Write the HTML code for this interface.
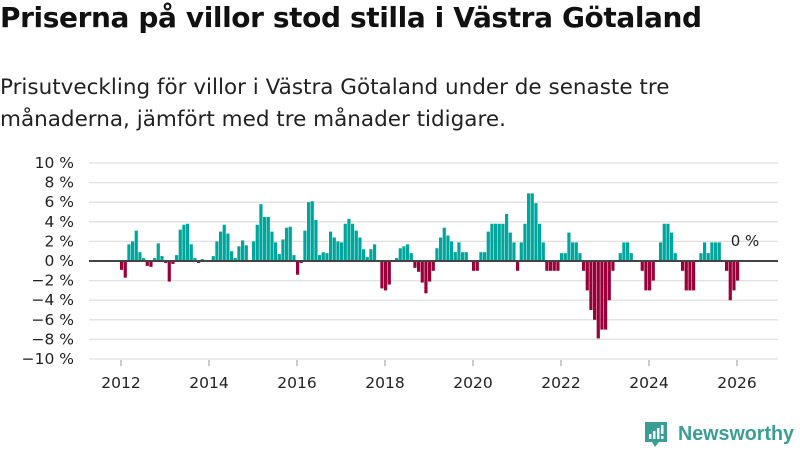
<!DOCTYPE html>
<html><head><meta charset="utf-8"><style>
body{margin:0;width:800px;height:450px;background:#fff;font-family:"Liberation Sans","DejaVu Sans",sans-serif;overflow:hidden;position:relative}
h1{position:absolute;left:0;top:1px;margin:0;font-size:28px;font-weight:bold;color:#111;font-family:"DejaVu Sans","Liberation Sans",sans-serif;letter-spacing:-0.4px}
.sub{position:absolute;left:0;top:72px;margin:0;font-size:21.5px;line-height:32px;color:#222;font-family:"DejaVu Sans","Liberation Sans",sans-serif;width:760px}
svg{position:absolute;left:0;top:0}
</style></head><body>
<h1>Priserna på villor stod stilla i Västra Götaland</h1>
<p class="sub">Prisutveckling för villor i Västra Götaland under de senaste tre<br>månaderna, jämfört med tre månader tidigare.</p>
<svg id="chart" width="800" height="450"></svg>
<script>
const startYear = 2012;
const values = [-0.9,-1.7,1.7,2.0,3.1,0.9,0.3,-0.5,-0.6,0.3,1.8,0.5,-0.2,-2.1,-0.3,0.6,3.2,3.7,3.8,1.7,0.3,-0.2,0.2,0.1,0,0.5,2.0,3.0,3.7,2.8,1.0,0.3,1.5,2.1,1.6,0,2.0,3.7,5.8,4.5,4.5,3.0,1.9,0.7,2.2,3.4,3.5,0.6,-1.4,-0.2,3.1,6.0,6.1,4.2,0.6,0.9,0.8,3.0,2.4,2.0,1.9,3.8,4.3,3.8,3.1,2.4,1.2,0.4,1.2,1.7,0,-2.8,-3.0,-2.4,0,0.3,1.3,1.5,1.7,0.8,-0.7,-1.1,-2.2,-3.3,-2.1,-1.0,1.3,2.4,3.4,2.6,2.0,0.9,1.9,0.9,0.9,0,-1.0,-1.0,0.9,0.9,3.0,3.8,3.8,3.8,3.8,4.8,2.9,1.9,-1.0,1.9,3.8,6.9,6.9,5.9,3.8,1.9,-1.0,-1.0,-1.0,-1.0,0.8,0.8,2.9,1.9,1.9,0.8,-1.0,-3.0,-5.0,-6.0,-7.9,-7.0,-7.0,-4.0,-1.0,0,0.8,1.9,1.9,0.8,0,0,-1.0,-3.0,-3.0,-2.0,0,1.9,3.8,3.8,2.9,0.8,0,-1.0,-3.0,-3.0,-3.0,0,0.8,1.9,0.8,1.9,1.9,1.9,0,-1.0,-4.0,-3.0,-2.0,0];
const yTicks = [10,8,6,4,2,0,-2,-4,-6,-8,-10];
const xTicks = [2012,2014,2016,2018,2020,2022,2024,2026];
const lastLabel = "0 %";

const NS="http://www.w3.org/2000/svg";
const svg=document.getElementById('chart');
const x=t=>121+(t-2012)*44;
const y=v=>261-v*9.8;
function mk(tag,attrs,parent){const e=document.createElementNS(NS,tag);for(const k in attrs)e.setAttribute(k,attrs[k]);(parent||svg).appendChild(e);return e;}
yTicks.forEach(v=>{
  const g=mk('line',{x1:89,x2:778,y1:y(v),y2:y(v),stroke:'#e0e0e0','stroke-width':1.3});
  
  
  const t=mk('text',{x:74,y:y(v)+5,'text-anchor':'end','font-size':15.5,fill:'#222','font-family':'DejaVu Sans, Liberation Sans, sans-serif'});
  t.textContent=(v<0?'−'+(-v):v)+' %';
  
  
});
xTicks.forEach(yr=>{
  const l=mk('line',{x1:x(yr),x2:x(yr),y1:360,y2:366,stroke:'#999','stroke-width':1});
  
  
  const t=mk('text',{x:x(yr),y:388,'text-anchor':'middle','font-size':15.5,fill:'#222','font-family':'DejaVu Sans, Liberation Sans, sans-serif'});
  t.textContent=yr;
  
  
});
values.forEach((v,i)=>{
  const t=startYear+i/12;
  const x0=x(t)-1;
  const r=mk('rect',{x:x0,width:3.2,y:Math.min(y(v),y(0)),height:Math.abs(y(v)-y(0)),fill:v>=0?'#00a69c':'#9b003a'});
  
  
});
const z=mk('line',{x1:89,x2:778,y1:y(0),y2:y(0),stroke:'#444','stroke-width':2});


const lb=mk('text',{x:745,y:246,'text-anchor':'middle','font-size':15,fill:'#222','font-family':'DejaVu Sans, Liberation Sans, sans-serif'});
lb.textContent=lastLabel;


</script>
<svg width="800" height="450" style="pointer-events:none">
<path d="M645 422 h22 v20 h-8 l-4 5 l-3 -5 h-7z" fill="#3a9e96"/>
<rect x="649" y="434" width="2.5" height="5" fill="#fff"/><rect x="653" y="431" width="2.5" height="8" fill="#fff"/><rect x="657" y="428" width="2.5" height="11" fill="#fff"/><rect x="661" y="425" width="2.5" height="9" fill="#fff"/><rect x="661" y="436" width="2.5" height="3" fill="#fff"/>
<text x="678" y="440" font-size="20" font-weight="bold" fill="#3a9e96" textLength="116" lengthAdjust="spacingAndGlyphs" font-family="Liberation Sans, DejaVu Sans, sans-serif">Newsworthy</text>
</svg>
</body></html>
